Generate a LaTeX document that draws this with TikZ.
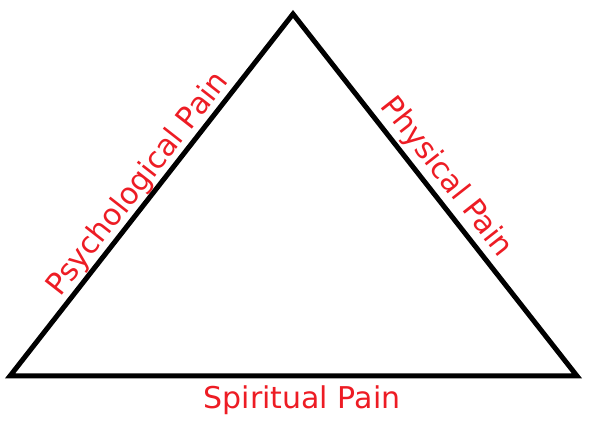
\documentclass[tikz,border=0pt]{standalone}
\usepackage{fontspec}
\setmainfont{DejaVu Sans}
\usepackage{tikz}

\begin{document}
\begin{tikzpicture}[x=1pt,y=1pt]
\definecolor{my_red}{RGB}{237,28,36}
\tikzset{painlabel/.style={text=my_red, font=\fontsize{30}{34}\selectfont, inner sep=0pt}}
\useasboundingbox (0,0) rectangle (591,425);

\coordinate (A) at (10,49);
\coordinate (B) at (577,49);
\coordinate (C) at (293,411);
\draw[line width=5pt, line join=miter] (A) -- (C) -- (B) -- cycle;

\path (A) -- (C) node[painlabel, midway, sloped, above=2pt] (psych) {Psychological Pain};
\path (C) -- (B) node[painlabel, pos=0.485, sloped, above=5pt] (phys) {Physical Pain};
\path (A) -- (B) node[painlabel, pos=0.515, below=9.5pt] (spirit) {Spiritual Pain};
\end{tikzpicture}
\end{document}
